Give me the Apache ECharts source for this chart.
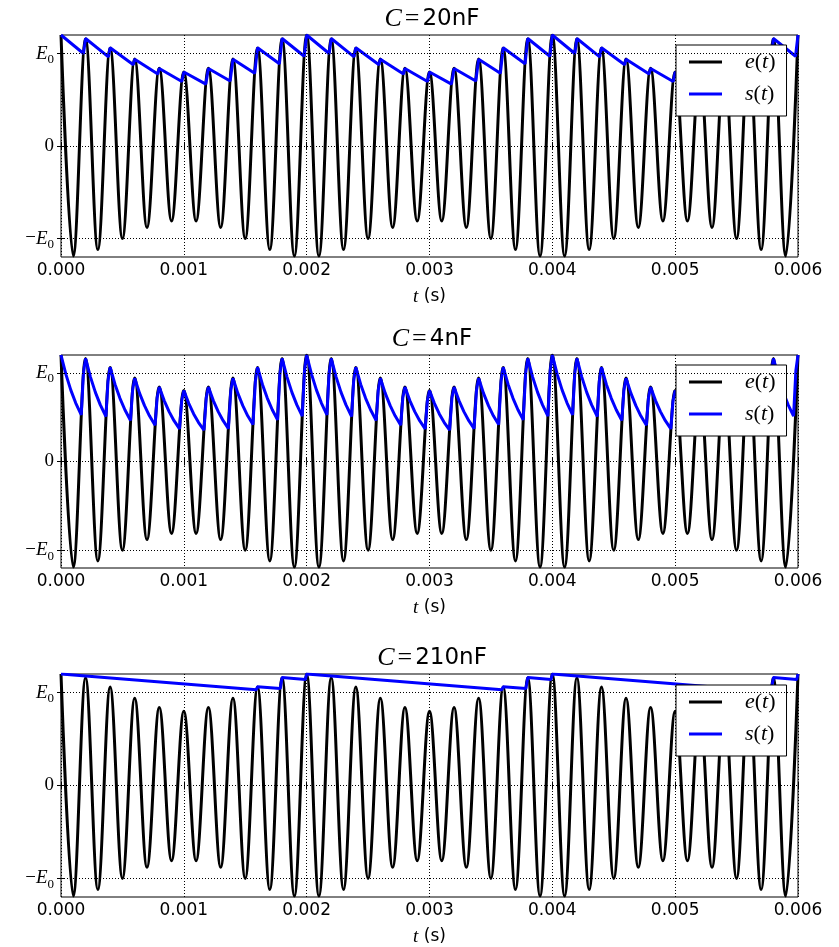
<!DOCTYPE html>
<html>
<head>
<meta charset="UTF-8">
<title>Envelope detector</title>
<script src="https://cdn.jsdelivr.net/npm/echarts@6/dist/echarts.min.js"></script>
<style>html,body{margin:0;padding:0;background:#fff}</style>
</head>
<body>
<div id="chart" style="width:839px;height:947px;"></div>
<script>
// times are in ms, labels are shown in s
var xTicks = [0, 1, 2, 3, 4, 5, 6];
var yTicks = [-1, 0, 1];
var capLabels = ['20nF', '4nF', '210nF'];

// e(t): carrier extrema (one every half period)
var eTimes = [
  0, 0.1, 0.2, 0.3, 0.4, 0.5, 0.6, 0.7, 0.8, 0.9,
  1, 1.1, 1.2, 1.3, 1.4, 1.5, 1.6, 1.7, 1.8, 1.9,
  2, 2.1, 2.2, 2.3, 2.4, 2.5, 2.6, 2.7, 2.8, 2.9,
  3, 3.1, 3.2, 3.3, 3.4, 3.5, 3.6, 3.7, 3.8, 3.9,
  4, 4.1, 4.2, 4.3, 4.4, 4.5, 4.6, 4.7, 4.8, 4.9,
  5, 5.1, 5.2, 5.3, 5.4, 5.5, 5.6, 5.7, 5.8, 5.9,
  6
];
var eValues = [
  1.2, -1.19, 1.16, -1.12, 1.06, -1.0, 0.94, -0.88, 0.84, -0.81,
  0.8, -0.81, 0.84, -0.88, 0.94, -1.0, 1.06, -1.12, 1.16, -1.19,
  1.2, -1.19, 1.16, -1.12, 1.06, -1.0, 0.94, -0.88, 0.84, -0.81,
  0.8, -0.81, 0.84, -0.88, 0.94, -1.0, 1.06, -1.12, 1.16, -1.19,
  1.2, -1.19, 1.16, -1.12, 1.06, -1.0, 0.94, -0.88, 0.84, -0.81,
  0.8, -0.81, 0.84, -0.88, 0.94, -1.0, 1.06, -1.12, 1.16, -1.19,
  1.2
];

// s(t) for C = 20nF
var s20 = [
  [0,1.2],[0.183,1.0],[0.2,1.162],[0.386,0.964],[0.4,1.062],[0.589,0.879],[0.6,0.938],[0.788,0.778],
  [0.8,0.838],[0.984,0.698],[1.0,0.8],[1.179,0.669],[1.2,0.838],[1.377,0.702],[1.4,0.938],[1.577,0.786],
  [1.6,1.062],[1.778,0.889],[1.8,1.162],[1.98,0.97],
  [2,1.2],[2.183,1.0],[2.2,1.162],[2.386,0.964],[2.4,1.062],[2.589,0.879],[2.6,0.938],[2.788,0.778],
  [2.8,0.838],[2.984,0.698],[3.0,0.8],[3.179,0.669],[3.2,0.838],[3.377,0.702],[3.4,0.938],[3.577,0.786],
  [3.6,1.062],[3.778,0.889],[3.8,1.162],[3.98,0.97],
  [4,1.2],[4.183,1.0],[4.2,1.162],[4.386,0.964],[4.4,1.062],[4.589,0.879],[4.6,0.938],[4.788,0.778],
  [4.8,0.838],[4.984,0.698],[5.0,0.8],[5.179,0.669],[5.2,0.838],[5.377,0.702],[5.4,0.938],[5.577,0.786],
  [5.6,1.062],[5.778,0.889],[5.8,1.162],[5.98,0.97],
  [6,1.2]
];

// s(t) for C = 4nF
var s4 = [
  [0,1.2],[0.04,0.982],[0.08,0.804],[0.12,0.659],[0.165,0.526],[0.1825,0.990],
  [0.2,1.162],[0.24,0.951],[0.28,0.779],[0.32,0.638],[0.366,0.507],[0.3825,0.905],
  [0.4,1.062],[0.44,0.869],[0.48,0.712],[0.52,0.583],[0.566,0.462],[0.5825,0.800],
  [0.6,0.938],[0.64,0.768],[0.68,0.629],[0.72,0.515],[0.766,0.409],[0.7825,0.715],
  [0.8,0.838],[0.84,0.686],[0.88,0.562],[0.92,0.460],[0.965,0.367],[0.9825,0.682],
  [1.0,0.8],[1.04,0.655],[1.08,0.536],[1.12,0.439],[1.164,0.353],[1.1825,0.715],
  [1.2,0.838],[1.24,0.686],[1.28,0.562],[1.32,0.460],[1.363,0.371],[1.3825,0.800],
  [1.4,0.938],[1.44,0.768],[1.48,0.629],[1.52,0.515],[1.563,0.416],[1.5825,0.905],
  [1.6,1.062],[1.64,0.869],[1.68,0.712],[1.72,0.583],[1.763,0.469],[1.7825,0.990],
  [1.8,1.162],[1.84,0.951],[1.88,0.779],[1.92,0.638],[1.964,0.512],[1.9825,1.023],
  [2,1.2],[2.04,0.982],[2.08,0.804],[2.12,0.659],[2.165,0.526],[2.1825,0.990],
  [2.2,1.162],[2.24,0.951],[2.28,0.779],[2.32,0.638],[2.366,0.507],[2.3825,0.905],
  [2.4,1.062],[2.44,0.869],[2.48,0.712],[2.52,0.583],[2.566,0.462],[2.5825,0.800],
  [2.6,0.938],[2.64,0.768],[2.68,0.629],[2.72,0.515],[2.766,0.409],[2.7825,0.715],
  [2.8,0.838],[2.84,0.686],[2.88,0.562],[2.92,0.460],[2.965,0.367],[2.9825,0.682],
  [3.0,0.8],[3.04,0.655],[3.08,0.536],[3.12,0.439],[3.164,0.353],[3.1825,0.715],
  [3.2,0.838],[3.24,0.686],[3.28,0.562],[3.32,0.460],[3.363,0.371],[3.3825,0.800],
  [3.4,0.938],[3.44,0.768],[3.48,0.629],[3.52,0.515],[3.563,0.416],[3.5825,0.905],
  [3.6,1.062],[3.64,0.869],[3.68,0.712],[3.72,0.583],[3.763,0.469],[3.7825,0.990],
  [3.8,1.162],[3.84,0.951],[3.88,0.779],[3.92,0.638],[3.964,0.512],[3.9825,1.023],
  [4,1.2],[4.04,0.982],[4.08,0.804],[4.12,0.659],[4.165,0.526],[4.1825,0.990],
  [4.2,1.162],[4.24,0.951],[4.28,0.779],[4.32,0.638],[4.366,0.507],[4.3825,0.905],
  [4.4,1.062],[4.44,0.869],[4.48,0.712],[4.52,0.583],[4.566,0.462],[4.5825,0.800],
  [4.6,0.938],[4.64,0.768],[4.68,0.629],[4.72,0.515],[4.766,0.409],[4.7825,0.715],
  [4.8,0.838],[4.84,0.686],[4.88,0.562],[4.92,0.460],[4.965,0.367],[4.9825,0.682],
  [5.0,0.8],[5.04,0.655],[5.08,0.536],[5.12,0.439],[5.164,0.353],[5.1825,0.715],
  [5.2,0.838],[5.24,0.686],[5.28,0.562],[5.32,0.460],[5.363,0.371],[5.3825,0.800],
  [5.4,0.938],[5.44,0.768],[5.48,0.629],[5.52,0.515],[5.563,0.416],[5.5825,0.905],
  [5.6,1.062],[5.64,0.869],[5.68,0.712],[5.72,0.583],[5.763,0.469],[5.7825,0.990],
  [5.8,1.162],[5.84,0.951],[5.88,0.779],[5.92,0.638],[5.964,0.512],[5.9825,1.023],
  [6,1.2]
];

// s(t) for C = 210nF
var s210 = [
  [0,1.2],[1.59,1.03],[1.6,1.062],[1.785,1.043],[1.8,1.162],[1.99,1.141],
  [2,1.2],[3.59,1.03],[3.6,1.062],[3.785,1.043],[3.8,1.162],[3.99,1.141],
  [4,1.2],[5.59,1.03],[5.6,1.062],[5.785,1.043],[5.8,1.162],[5.99,1.141],
  [6,1.2]
];

var sSets = [s20, s4, s210];
var gridTops = [35, 355, 674];
var gridHeights = [222, 213, 226];
var titleTops = [1, 321, 640];
var legendTops = [45, 365, 685];

var chart = echarts.init(document.getElementById('chart'));

var ePts = eTimes.map(function (t, i) { return [t, eValues[i]]; });

var dotted = { color: '#000', type: [1, 2], width: 1 };
var tickStyle = { color: '#000', width: 1 };
var serif = 'Liberation Serif';

function yLabel(v) {
  if (v === 1) return '{e|E}{z|0}';
  if (v === -1) return '{m|\u2212}{e|E}{z|0}';
  return '{d|0}';
}

var grids = [], xAxes = [], yAxes = [], series = [], titles = [], legends = [];

for (var g = 0; g < 3; g++) {
  grids.push({
    left: 61, right: 41, top: gridTops[g], height: gridHeights[g],
    show: true, borderColor: '#000', borderWidth: 1
  });

  xAxes.push({
    type: 'value', gridIndex: g, min: 0, max: 6, interval: 1, position: 'bottom',
    axisLine: { show: false },
    axisTick: { inside: true, length: 4, lineStyle: tickStyle },
    axisLabel: {
      color: '#000', fontFamily: 'DejaVu Sans', fontSize: 17, margin: 5,
      showMinLabel: true, showMaxLabel: true,
      formatter: function (v) { return (v / 1000).toFixed(3); }
    },
    splitLine: { show: true, lineStyle: dotted },
    name: '{t|t} (s)', nameLocation: 'middle', nameGap: 30,
    nameTextStyle: {
      color: '#000', fontFamily: 'DejaVu Sans', fontSize: 17,
      rich: { t: { fontFamily: serif, fontStyle: 'italic', fontSize: 19, color: '#000' } }
    }
  });
  xAxes.push({
    type: 'value', gridIndex: g, min: 0, max: 6, interval: 1, position: 'top',
    axisLine: { show: false },
    axisTick: { inside: true, length: 4, lineStyle: tickStyle },
    axisLabel: { show: false },
    splitLine: { show: false }
  });

  yAxes.push({
    type: 'value', gridIndex: g, min: -1.2, max: 1.2, position: 'left',
    axisLine: { show: false },
    axisTick: { inside: true, length: 4, lineStyle: tickStyle, customValues: yTicks },
    axisLabel: {
      customValues: yTicks, margin: 7, formatter: yLabel,
      rich: {
        e: { fontFamily: serif, fontStyle: 'italic', fontSize: 19, color: '#000' },
        m: { fontFamily: serif, fontSize: 19, color: '#000' },
        d: { fontFamily: serif, fontSize: 19, color: '#000' },
        z: { fontFamily: serif, fontSize: 13, color: '#000', padding: [12, 0, 0, 0] }
      }
    },
    splitLine: { show: false }
  });
  yAxes.push({
    type: 'value', gridIndex: g, min: -1.2, max: 1.2, position: 'right',
    axisLine: { show: false },
    axisTick: { inside: true, length: 4, lineStyle: tickStyle, customValues: yTicks },
    axisLabel: { show: false },
    splitLine: { show: false }
  });

  series.push({
    type: 'line', name: 'e(t)', xAxisIndex: 2 * g, yAxisIndex: 2 * g,
    data: ePts, smooth: 0.36, smoothMonotone: 'x', showSymbol: false,
    lineStyle: { color: '#000', width: 3 }, itemStyle: { color: '#000' },
    markLine: {
      silent: true, symbol: ['none', 'none'], label: { show: false },
      lineStyle: dotted, animation: false,
      data: yTicks.map(function (v) { return { yAxis: v }; })
    }
  });
  series.push({
    type: 'line', name: 's(t)', xAxisIndex: 2 * g, yAxisIndex: 2 * g,
    data: sSets[g], showSymbol: false,
    lineStyle: { color: '#0000ff', width: 3 }, itemStyle: { color: '#0000ff' }
  });

  titles.push({
    text: '{c|C}{q|=}{n|' + capLabels[g] + '}',
    left: 427, top: titleTops[g], textAlign: 'center',
    textStyle: {
      fontWeight: 'normal',
      rich: {
        c: { fontFamily: serif, fontStyle: 'italic', fontWeight: 'normal', fontSize: 26, color: '#000' },
        q: { fontFamily: serif, fontWeight: 'normal', fontSize: 26, color: '#000', padding: [0, 3, 0, 3] },
        n: { fontFamily: 'DejaVu Sans', fontWeight: 'normal', fontSize: 23, color: '#000' }
      }
    }
  });

  legends.push({
    left: 676, top: legendTops[g], orient: 'vertical',
    data: ['e(t)', 's(t)'], selectedMode: false,
    icon: 'rect', itemWidth: 33, itemHeight: 3, itemGap: 10,
    backgroundColor: '#fff', borderColor: '#000', borderWidth: 1, borderRadius: 0,
    padding: [6, 11, 11, 13],
    formatter: function (name) {
      return '{i|' + name.charAt(0) + '}{p|(}{i|t}{p|)}';
    },
    textStyle: {
      padding: [0, 0, 0, 18],
      rich: {
        i: { fontFamily: serif, fontStyle: 'italic', fontSize: 22, lineHeight: 22, color: '#000' },
        p: { fontFamily: serif, fontSize: 22, lineHeight: 22, color: '#000' }
      }
    }
  });
}

chart.setOption({
  animation: false,
  backgroundColor: '#fff',
  title: titles,
  legend: legends,
  grid: grids,
  xAxis: xAxes,
  yAxis: yAxes,
  series: series
});
</script>
</body>
</html>
